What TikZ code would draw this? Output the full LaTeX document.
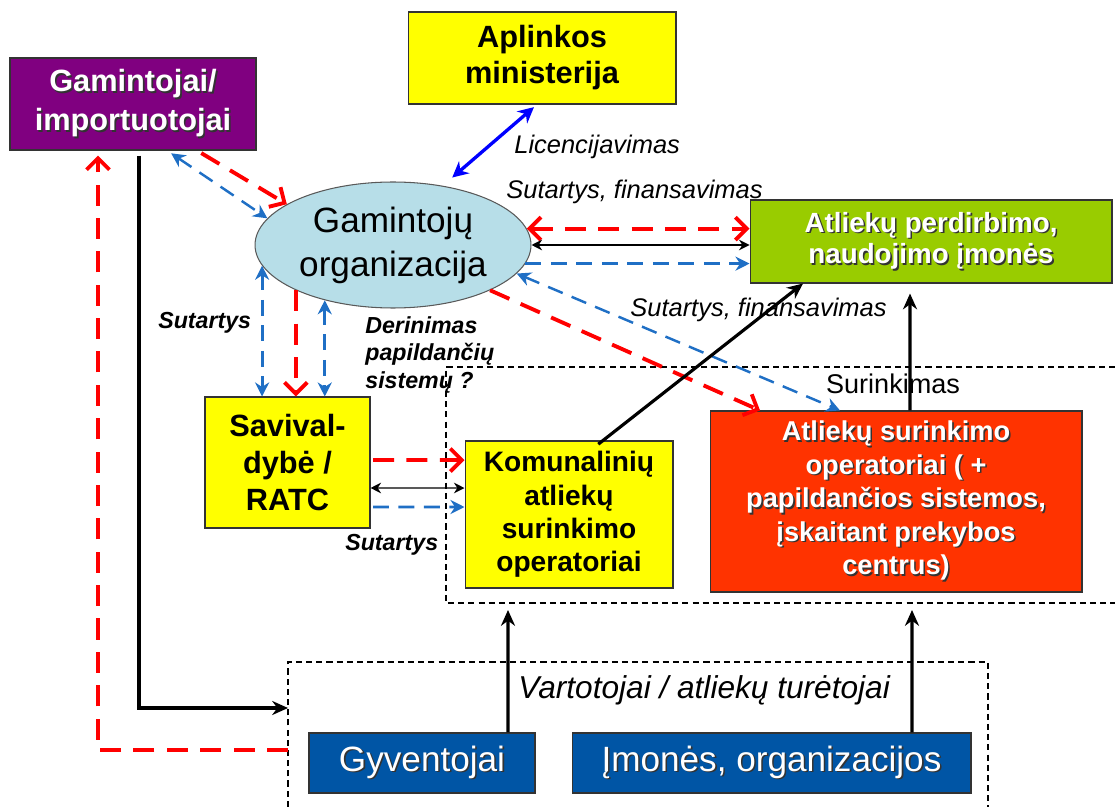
\documentclass[tikz,border=0pt]{standalone}
\usepackage{fontspec}
\setmainfont{Liberation Sans}
\usetikzlibrary{shapes.geometric,arrows.meta}

\definecolor{gampurple}{HTML}{800080}
\definecolor{boxyellow}{HTML}{FFFF00}
\definecolor{orgblue}{HTML}{B7DEE8}
\definecolor{perdgreen}{HTML}{99CC00}
\definecolor{surred}{HTML}{FF3300}
\definecolor{vartblue}{HTML}{0055A5}
\definecolor{linkred}{HTML}{FF0000}
\definecolor{linkblue}{HTML}{1F6FC5}
\definecolor{licblue}{HTML}{0000FF}

% white text with a dark drop shadow
\newcommand{\shtxt}[1]{\makebox[0pt][l]{\raisebox{-0.9pt}{\hspace{0.9pt}\textcolor{black!80}{#1}}}#1}

\tikzset{
  box/.style      = {draw=black!80, line width=0.6pt, align=center, inner sep=2pt},
  lbl/.style      = {inner sep=0pt, font=\itshape\fontsize{14.5}{17}\selectfont},
  blbl/.style     = {inner sep=0pt, font=\bfseries\itshape\fontsize{13.2}{15.6}\selectfont},
  redarrow/.style = {draw=linkred, line width=2.2pt, dash pattern=on 12pt off 7pt,
                     >={Straight Barb[length=6.5pt,width=13pt]}, ->},
  redboth/.style  = {redarrow, <->},
  bluearrow/.style= {draw=linkblue, line width=1.7pt, dash pattern=on 9pt off 5.5pt,
                     >={Stealth[length=8pt,width=8pt]}, ->},
  blueboth/.style = {bluearrow, <->},
  blackthick/.style = {line width=1.8pt, -{Stealth[length=9pt,width=8pt]}},
  blackthin/.style  = {line width=0.8pt, {Stealth[length=6pt,width=6pt]}-{Stealth[length=6pt,width=6pt]}},
  licarrow/.style   = {draw=licblue, line width=1.9pt, {Stealth[length=9pt,width=9pt]}-{Stealth[length=9pt,width=9pt]}},
  frame/.style      = {line width=0.7pt, dash pattern=on 3.5pt off 2.3pt}
}

\begin{document}
\begin{tikzpicture}[x=0.02cm, y=-0.02cm]
  \useasboundingbox (0,0) rectangle (1115,807);

  % dashed frames
  \coordinate (surB)  at (446,603);
  \coordinate (vartL) at (288,708);
  \coordinate (vartR) at (288,750);
  \coordinate (gyvUp) at (508,603);
  \coordinate (imoUp) at (912,603);
  \draw[frame] (1115,367) -| (surB) -- (1115,603);
  \draw[frame] (288,807) |- (988,662) -- (988,807);

  % boxes
  \node[box, fill=gampurple, text=white, minimum width=4.92cm, minimum height=1.84cm,
        font=\bfseries\fontsize{17.5}{22}\selectfont] (gam) at (133,104)
        {\shtxt{Gamintojai/}\\\shtxt{importuotojai}};
  \node[box, fill=boxyellow, minimum width=5.36cm, minimum height=1.84cm,
        font=\bfseries\fontsize{17.5}{20.5}\selectfont] (min) at (542,58) {Aplinkos\\ministerija};
  \node[ellipse, draw=black!65, line width=0.6pt, fill=orgblue, minimum width=5.52cm, minimum height=2.52cm,
        inner sep=0pt, align=center, font=\fontsize{20}{25}\selectfont] (org) at (393,245)
        {Gamintojų\\organizacija};
  \node[box, fill=perdgreen, text=white, minimum width=7.24cm, minimum height=1.66cm,
        font=\bfseries\fontsize{15.8}{18}\selectfont] (perd) at (931,241.5)
        {\shtxt{Atliekų perdirbimo,}\\\shtxt{naudojimo įmonės}};
  \node[box, fill=boxyellow, minimum width=3.30cm, minimum height=2.62cm,
        font=\bfseries\fontsize{17.5}{21.3}\selectfont] (sav) at (287.5,462.5) {Savival-\\dybė /\\RATC};
  \node[box, fill=boxyellow, minimum width=4.16cm, minimum height=2.94cm,
        font=\bfseries\fontsize{16}{19}\selectfont] (kom) at (569,514.5)
        {Komunalinių\\atliekų\\surinkimo\\operatoriai};
  \node[box, fill=surred, text=white, minimum width=7.44cm, minimum height=3.62cm,
        font=\bfseries\fontsize{15.5}{19}\selectfont] (sur) at (896,501.5)
        {\shtxt{Atliekų surinkimo}\\\shtxt{operatoriai ( +}\\\shtxt{papildančios sistemos,}\\\shtxt{įskaitant prekybos}\\\shtxt{centrus)}};
  \node[box, fill=vartblue, text=white, minimum width=4.52cm, minimum height=1.20cm,
        font=\fontsize{20}{24}\selectfont] (gyv) at (422,763) {\shtxt{Gyventojai}};
  \node[box, fill=vartblue, text=white, minimum width=7.98cm, minimum height=1.20cm,
        font=\fontsize{20}{24}\selectfont] (imo) at (771.5,763) {\shtxt{Įmonės, organizacijos}};

  % labels
  \node[lbl, anchor=west] (licLbl) at (514,147) {Licencijavimas};
  \node[lbl, anchor=west] (sfTop)  at (506,192) {Sutartys, finansavimas};
  \node[lbl, anchor=west] (sfMid)  at (630,310) {Sutartys, finansavimas};
  \node[inner sep=0pt, font=\fontsize{15.4}{18}\selectfont] (surLbl) at (893,384) {Surinkimas};
  \node[lbl, anchor=west, font=\itshape\fontsize{18}{22}\selectfont] (vartLbl) at (518,690)
        {Vartotojai / atliekų turėtojai};
  \node[blbl, anchor=west] (sutL) at (158,323) {Sutartys};
  \node[blbl, anchor=west, align=left] (derLbl) at (365,355) {Derinimas\\papildančių\\sistemų ?};
  \node[blbl, anchor=west] (sutB) at (345,545) {Sutartys};

  % ministerija
  \draw[licarrow, shorten <=0.08cm, shorten >=0.25cm] ([xshift=-0.1cm]min.south) -- (org.50);

  % gamintojai
  \draw[redarrow, shorten <=0.1cm] ([xshift=1.28cm]gam.south) -- (org.159);
  \draw[blueboth, line width=1.4pt, shorten <=0.1cm] ([xshift=0.68cm]gam.south) -- (org.168);
  \draw[blackthick, shorten <=0.1cm] ([xshift=0.12cm]gam.south) |- (vartL);
  \draw[redarrow, shorten >=0.1cm] (vartR) -| ([xshift=-0.70cm]gam.south);

  % organizacija - perdirbimas
  \draw[redboth] (org.7) -- (org.7 -| perd.west);
  \draw[blackthin] (org.east) -- (org.east -| perd.west);
  \draw[bluearrow] (org.-8) -- (org.-8 -| perd.west);

  % organizacija - surinkimas
  \draw[blueboth, line width=1.4pt] (org.-13) -- ([xshift=-1.12cm]sur.north);
  \draw[redarrow] (org.-25) -- ([xshift=-2.72cm]sur.north);

  % organizacija - savivaldybe
  \draw[blueboth] (org.189) -- (org.189 |- sav.north);
  \draw[redarrow] (org.205) -- (org.205 |- sav.north);
  \draw[blueboth] (org.219) -- (org.219 |- sav.north);

  % savivaldybe - komunaliniai
  \draw[redarrow, shorten <=0.05cm] ([yshift=0.05cm]sav.east) -- ([yshift=1.09cm]kom.west);
  \draw[blackthin] ([yshift=-0.51cm]sav.east) -- ([yshift=0.53cm]kom.west);
  \draw[bluearrow, shorten <=0.05cm] ([yshift=-0.89cm]sav.east) -- ([yshift=0.15cm]kom.west);

  % to perdirbimas
  \draw[blackthick, shorten <=-0.12cm] ([xshift=0.68cm]kom.north) -- ([xshift=-2.56cm]perd.south);
  \draw[blackthick, shorten >=0.2cm] ([xshift=0.28cm]sur.north) -- ([xshift=-0.42cm]perd.south);

  % vartotojai
  \draw[blackthick, shorten >=0.14cm] ([xshift=1.72cm]gyv.north) -- (gyvUp);
  \draw[blackthick, shorten >=0.14cm] ([xshift=2.81cm]imo.north) -- (imoUp);
\end{tikzpicture}
\end{document}
